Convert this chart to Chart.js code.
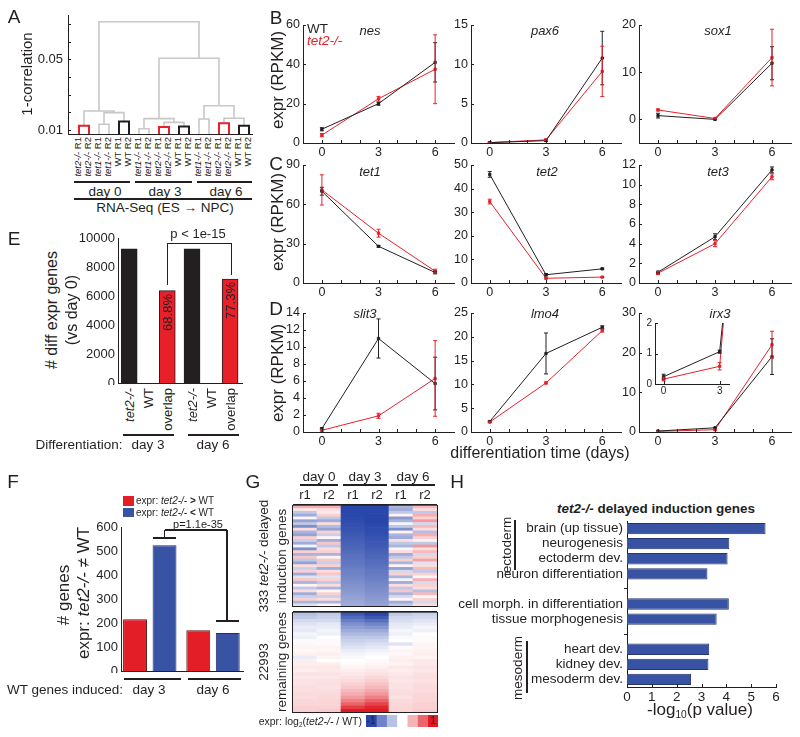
<!DOCTYPE html>
<html>
<head>
<meta charset="utf-8">
<script src="https://cdn.jsdelivr.net/npm/chart.js@4.4.1/dist/chart.umd.min.js"></script>
<style>
  body { margin: 0; background: #fff; }
  #fig { position: relative; width: 800px; height: 737px; overflow: hidden; background: #fff;
         font-family: "Liberation Sans", Arial, sans-serif; color: #231f20; }
  #fig canvas { position: absolute; }
  .t { position: absolute; white-space: nowrap; line-height: 1; }
  .t sub { font-size: 0.6em; vertical-align: -0.3em; line-height: 0; }
  .ln { position: absolute; background: #231f20; }
</style>
</head>
<body>
<div id="fig"></div>
<script>
// ===== Data =====
// A: dendrogram (1-correlation)
const leafLabels = ["tet2-/- R1","tet2-/- R2","tet1-/- R1","tet1-/- R2","WT R1","WT R2",
                    "tet1-/- R1","tet1-/- R2","tet2-/- R1","tet2-/- R2","WT R1","WT R2",
                    "tet1-/- R1","tet1-/- R2","tet2-/- R1","tet2-/- R2","WT R1","WT R2"];
const leafH = 0.0077;
const linkLeftX  = [1, 3, 5, 3.5, 1.5,   7, 9, 11, 9.5, 7.5,   13, 15, 17, 15.5, 13.5,   9, 3];
const linkRightX = [2, 4, 6, 5.5, 4.5,   8, 10, 12, 11.5, 10.5, 14, 16, 18, 17.5, 16.5,  15, 13];
const linkLeftH  = [leafH, leafH, leafH, 0.0132, 0.0124,  leafH, leafH, leafH, 0.0117, 0.0107,
                    leafH, leafH, leafH, 0.0138, 0.0162,  0.0164, 0.0207];
const linkRightH = [leafH, leafH, leafH, 0.0147, 0.0198,  leafH, leafH, leafH, 0.0119, 0.0143,
                    leafH, leafH, leafH, 0.0124, 0.0166,  0.0237, 0.0505];
const linkH      = [0.0124, 0.0132, 0.0147, 0.0198, 0.0207,  0.0107, 0.0117, 0.0119, 0.0143, 0.0164,
                    0.0162, 0.0138, 0.0124, 0.0166, 0.0237,  0.0505, 0.0712];
const linkColor  = ["r","g","k","g","g", "g","r","k","g","g", "g","r","k","g","g", "g","g"];
const corrTicks = [0.01, 0.05];
const corrMinor = [0.01, 0.02, 0.03, 0.04, 0.05, 0.06, 0.07];

// B-D: expression time courses (RPKM), WT vs tet2-/-
const days = [0, 3, 6];
const geneNames = ["nes","pax6","sox1","tet1","tet2","tet3","slit3","lmo4","irx3"];
const wtMean = [[7,20,41],[0.05,0.3,10.8],[0.8,0,11.9],[70,28,8],[46,3.5,6],[1.1,4.7,11.5],[0.4,11,5.7],[2.2,16.5,22],[0.24,1.06,19]];
const wtErr  = [[0.8,0.8,10],[0.05,0.1,3.4],[0.5,0.1,3.5],[3,0.6,1],[1.2,0.5,0.3],[0.1,0.3,0.3],[0.1,2.3,3.1],[0.15,4.3,0.3],[0.08,0.05,4.5]];
const koMean = [[4,22.5,37.5],[0.05,0.4,9.1],[2.0,0.2,13.1],[71,38,9],[34.5,2,2.5],[1.0,4.0,10.8],[0.2,1.9,6.3],[2.1,10.3,21.3],[0.16,0.58,22]];
const koErr  = [[0.8,1.2,17.5],[0.05,0.1,3.2],[0.2,0.1,6],[11.5,3,1.5],[1,0.3,0.2],[0.15,0.3,0.3],[0.1,0.3,4.45],[0.15,0.2,0.3],[0.06,0.12,3.4]];
const yMin = [0,0,-5,0,0,0,0,0,0];
const yMax = [60,15,20,90,50,12,14,25,30];
const yTicks = [[0,20,40,60],[0,5,10,15],[0,10,20],[0,30,60,90],[0,10,20,30,40,50],
                [0,2,4,6,8,10,12],[0,2,4,6,8,10,12,14],[0,5,10,15,20,25],[0,10,20,30]];
const dayTicks = [0, 3, 6];
const dayMinor = [0, 1, 2, 3, 4, 5, 6];
const insetYTicks = [0, 1, 2];
const insetXTicks = [0, 3];

// E: # diff expr genes vs day 0
const eLabels = ["tet2-/-","WT","overlap","tet2-/-","WT","overlap"];
const eSlots  = [1, 2, 3, 4.3, 5.3, 6.3];
const eValues = [9260, null, 6370, 9260, null, 7160];
const ePct    = [null, null, "68.8%", null, null, "77.3%"];
const eTicks  = [0, 2000, 4000, 6000, 8000, 10000];

// F: # genes tet2-/- != WT
const fGroups = ["day 3", "day 6"];
const fUp   = [216, 170];
const fDown = [524, 158];
const fTicks = [0, 100, 200, 300, 400, 500, 600];

// G: heatmap log2(tet2-/- / WT), columns d0r1 d0r2 d3r1 d3r2 d6r1 d6r2
const heatCols = ["r1","r2","r1","r2","r1","r2"];
const delayD0R1 = [0.35,0.1,-0.3,-0.45,0.05,-0.5,-0.3,-0.6,0.15,-0.4,-0.5,0.2,-0.25,-0.45,-0.05,-0.6,0.2,-0.4,0.25,-0.3,-0.5,0.15,-0.25,0.2,-0.45,-0.15,0.25,-0.4,0.05,-0.3,0.15,-0.45,-0.25,0.2,-0.4,-0.15];
const delayD0R2 = [0.35,0.15,0.1,0.2,-0.3,-0.45,0.15,-0.35,-0.5,0.2,-0.25,0.05,-0.45,0.25,-0.3,0.15,0.2,-0.4,0.05,0.25,-0.25,0.2,-0.45,0.15,0.25,-0.15,0.2,-0.3,0.15,-0.4,0.05,0.2,-0.25,0.15,-0.4,0.05];
const delayD3R1 = [-1,-1,-1,-0.99,-0.98,-0.97,-0.95,-0.94,-0.93,-0.91,-0.9,-0.88,-0.87,-0.85,-0.83,-0.82,-0.8,-0.78,-0.77,-0.75,-0.74,-0.72,-0.7,-0.68,-0.67,-0.65,-0.63,-0.61,-0.59,-0.57,-0.55,-0.53,-0.51,-0.49,-0.47,-0.45];
const delayD3R2 = [-1,-1,-1,-1,-1,-1,-0.99,-0.98,-0.97,-0.96,-0.95,-0.93,-0.92,-0.9,-0.89,-0.87,-0.85,-0.84,-0.82,-0.8,-0.79,-0.77,-0.75,-0.73,-0.72,-0.7,-0.68,-0.66,-0.64,-0.62,-0.6,-0.58,-0.56,-0.54,-0.52,-0.5];
const delayD6R1 = [-0.4,-0.45,-0.3,0.05,-0.55,-0.4,-0.05,-0.3,-0.6,0.05,-0.4,-0.45,0.15,-0.3,-0.4,-0.05,0.15,-0.45,-0.3,0.2,-0.4,0.05,-0.5,-0.2,0.2,-0.4,-0.05,-0.45,0.15,-0.3,0.25,-0.4,-0.2,0.05,-0.45,-0.3];
const delayD6R2 = [0.3,0.15,-0.3,0.35,0.2,0.45,-0.2,0.3,0.15,-0.35,0.35,0.2,0.05,-0.3,0.45,0.15,0.3,-0.2,0.2,0.4,-0.15,0.15,0.3,-0.3,0.2,0.05,0.35,-0.2,0.2,0.15,-0.35,0.3,0.05,0.2,-0.2,0.15];
const restD0R1 = [-0.35,-0.3,-0.2,-0.15,-0.1,-0.12,-0.05,-0.08,0.02,-0.03,0.05,0.03,0.06,-0.1,0.08,0.07,0.1,0.08,0.12,0.1,0.13,0.12,0.15,0.14,0.16,0.15,0.17,0.18,0.2,0.2];
const restD0R2 = [-0.3,-0.25,-0.2,-0.12,-0.1,-0.06,-0.08,0.0,0.03,0.02,0.05,0.04,0.07,0.05,0.0,0.08,0.1,0.09,0.12,0.11,0.13,0.14,0.13,0.15,0.16,0.17,0.18,0.18,0.2,0.22];
const restD3R1 = [-0.9,-0.8,-0.7,-0.6,-0.52,-0.45,-0.38,-0.3,-0.25,-0.2,-0.15,-0.1,-0.06,-0.03,0.0,0.02,0.05,0.08,0.1,0.13,0.16,0.2,0.24,0.3,0.36,0.44,0.55,0.68,0.85,1.0];
const restD3R2 = [-1,-0.9,-0.78,-0.66,-0.56,-0.46,-0.38,-0.3,-0.23,-0.17,-0.12,-0.07,-0.03,0.0,0.02,0.04,0.07,0.1,0.13,0.17,0.21,0.26,0.31,0.38,0.45,0.55,0.68,0.82,0.95,1.0];
const restD6R1 = [-0.3,-0.22,-0.18,-0.12,-0.1,-0.05,-0.08,-0.02,0.0,-0.15,0.02,0.05,0.03,0.06,0.08,0.05,0.1,0.08,0.1,0.12,0.11,0.13,0.12,0.14,0.15,0.13,0.16,0.17,0.18,0.18];
const restD6R2 = [-0.25,-0.2,-0.15,-0.1,-0.05,-0.08,0.0,0.02,-0.02,0.05,0.04,0.06,0.08,0.05,0.1,0.09,0.12,0.1,0.13,0.14,0.12,0.15,0.16,0.15,0.17,0.18,0.18,0.2,0.2,0.22];
const scaleSteps = [-1, -0.67, -0.33, 0, 0.33, 0.67, 1];

// H: enrichment of delayed induction genes
const hTerms = ["brain (up tissue)","neurogenesis","ectoderm dev.","neuron differentiation","",
                "cell morph. in differentiation","tissue morphogenesis","",
                "heart dev.","kidney dev.","mesoderm dev."];
const hValues = [5.58, 4.12, 4.05, 3.24, null, 4.10, 3.61, null, 3.31, 3.28, 2.58];
const hTicks = [0, 1, 2, 3, 4, 5, 6];

// ===== Helpers =====
const INK = "#231f20", RED = "#e8202a", BLUE = "#3953a4", GRAY = "#c8c8c8";
const dendroColor = { r: RED, k: INK, g: GRAY };
Chart.defaults.font.family = '"Liberation Sans", Arial, sans-serif';
Chart.defaults.color = INK;
const fig = document.getElementById("fig");

function place(l, t, w, h, pl, pt, pr, pb) {
  const c = document.createElement("canvas");
  c.width = w + pl + pr; c.height = h + pt + pb;
  c.style.left = (l - pl) + "px"; c.style.top = (t - pt) + "px";
  fig.appendChild(c);
  return c;
}
function fitTo(size) {
  return s => {
    if (s.isHorizontal()) { s.height = size; s.paddingLeft = 0; s.paddingRight = 0; }
    else { s.width = size; s.paddingTop = 0; s.paddingBottom = 0; }
  };
}
function baseOpts(scales, pt, pr, extra, marks) {
  return Object.assign({
    responsive: false, animation: false, events: [],
    layout: { padding: { left: 0, top: pt, right: pr, bottom: 0 } },
    plugins: { legend: { display: false }, tooltip: { enabled: false }, inTicks: marks || {} },
    scales
  }, extra || {});
}
function linAxis(min, max, ticks, size, font, pad) {
  return {
    type: "linear", min, max,
    afterBuildTicks: s => { s.ticks = ticks.map(v => ({ value: v })); },
    afterFit: fitTo(size),
    grid: { display: false, drawTicks: false },
    border: { display: true, color: INK, width: 1 },
    ticks: { display: font > 0, font: { size: font || 10 }, color: INK, padding: pad ?? 3,
             maxRotation: 0, autoSkip: false, callback: v => String(v) }
  };
}
function txt(html, x, y, o) {
  o = o || {};
  const d = document.createElement("div");
  d.className = "t";
  d.innerHTML = html;
  d.style.left = x + "px"; d.style.top = y + "px";
  d.style.fontSize = (o.size || 13) + "px";
  if (o.color) d.style.color = o.color;
  if (o.bold) d.style.fontWeight = "bold";
  if (o.italic) d.style.fontStyle = "italic";
  const a = o.align || "c";
  const tx = a === "l" ? "0" : a === "r" ? "-100%" : "-50%";
  if (!o.rot) {
    d.style.transform = "translate(" + tx + ",-50%)";
  } else {
    d.style.transformOrigin = (a === "l" ? "left" : a === "r" ? "right" : "center") + " center";
    d.style.transform = "translate(" + tx + ",-50%) rotate(" + o.rot + "deg)";
  }
  fig.appendChild(d);
}
function box(x, y, w, h, color) {
  const d = document.createElement("div");
  d.className = "ln";
  d.style.left = x + "px"; d.style.top = y + "px";
  d.style.width = w + "px"; d.style.height = h + "px";
  if (color) d.style.background = color;
  fig.appendChild(d);
}
function hline(x1, x2, y, w) { box(x1, y - (w || 1) / 2, x2 - x1, w || 1); }
function vline(x, y1, y2, w) { box(x - (w || 1) / 2, y1, w || 1, y2 - y1); }
function ital(s) { return s.replace(/(tet\d-\/-)/, "<i>$1</i>"); }
function off(chart) { return { x: parseFloat(chart.canvas.style.left), y: parseFloat(chart.canvas.style.top) }; }
function heatColor(v) {
  const t = Math.max(-1, Math.min(1, v));
  const end = t < 0 ? [40, 70, 170] : [225, 25, 35];
  const a = Math.abs(t);
  const c = end.map(e => Math.round(255 + (e - 255) * a));
  return "rgb(" + c.join(",") + ")";
}

// error bars drawn through the chart's own scales
const errorBars = {
  id: "errorBars",
  afterDatasetsDraw(chart) {
    const { ctx, chartArea: a, scales: { x, y } } = chart;
    ctx.save();
    ctx.beginPath(); ctx.rect(a.left, a.top, a.right - a.left, a.bottom - a.top); ctx.clip();
    chart.data.datasets.forEach(ds => {
      if (!ds.errors) return;
      ctx.strokeStyle = ds.borderColor; ctx.lineWidth = 1;
      ctx.beginPath();
      ds.data.forEach((p, k) => {
        const e = ds.errors[k];
        if (!e) return;
        const px = x.getPixelForValue(p.x);
        const y1 = y.getPixelForValue(p.y - e), y2 = y.getPixelForValue(p.y + e);
        ctx.moveTo(px, y1); ctx.lineTo(px, y2);
        ctx.moveTo(px - 2, y1); ctx.lineTo(px + 2, y1);
        ctx.moveTo(px - 2, y2); ctx.lineTo(px + 2, y2);
      });
      ctx.stroke();
    });
    ctx.restore();
  }
};
// small inward tick marks (matlab style)
const inTicks = {
  id: "inTicks",
  afterDraw(chart, args, opts) {
    const { ctx, chartArea: a, scales: { x, y } } = chart;
    ctx.save(); ctx.strokeStyle = INK; ctx.lineWidth = 1; ctx.beginPath();
    (opts.x || []).forEach(v => { const p = Math.round(x.getPixelForValue(v)) + 0.5; ctx.moveTo(p, a.bottom); ctx.lineTo(p, a.bottom - 3); });
    (opts.y || []).forEach(v => { const p = Math.round(y.getPixelForValue(v)) + 0.5; ctx.moveTo(a.left, p); ctx.lineTo(a.left + 3, p); });
    ctx.stroke(); ctx.restore();
  }
};

// ===== Panel A: dendrogram =====
const chartA = new Chart(place(68, 15, 184, 119, 40, 8, 4, 2), {
  type: "line",
  data: { datasets: linkH.map((h, k) => ({
    data: [{ x: linkLeftX[k], y: linkLeftH[k] }, { x: linkLeftX[k], y: h },
           { x: linkRightX[k], y: h }, { x: linkRightX[k], y: linkRightH[k] }],
    borderColor: dendroColor[linkColor[k]], borderWidth: linkColor[k] === "g" ? 1.6 : 2,
    pointRadius: 0, tension: 0, clip: false, order: linkColor[k] === "g" ? 1 : 0
  })) },
  options: baseOpts({
    x: linAxis(-0.1, 18.3, [0], 2, 0),
    y: linAxis(0.0077, 0.075, corrTicks, 40, 13, 5)
  }, 8, 4, null, { y: corrMinor }),
  plugins: [inTicks]
});
(function () {
  const o = off(chartA), sx = chartA.scales.x, sy = chartA.scales.y;
  const base = o.y + sy.getPixelForValue(leafH) + 3;
  leafLabels.forEach((l, k) => txt(ital(l), o.x + sx.getPixelForValue(k + 1) - 1, base, { size: 9.5, rot: -90, align: "r" }));
})();
txt("1-correlation", 26, 74, { size: 15, rot: -90 });
hline(74, 130, 182, 1.3); hline(135, 192, 182, 1.3); hline(197, 252, 182, 1.3);
hline(74, 252, 199, 1.3);
txt("day 0", 105, 192, { size: 13.5 });
txt("day 3", 165, 192, { size: 13.5 });
txt("day 6", 226, 192, { size: 13.5 });
txt("RNA-Seq (ES &#8594; NPC)", 165, 208, { size: 13.5 });

// ===== Panels B-D: time courses =====
const colL = [303, 471, 639], colW = [152, 151, 153];
const rowT = [25, 165, 313], rowH = [118, 118, 119];
function series(vals, errs, color) {
  return {
    data: days.map((d, k) => ({ x: d, y: vals[k] })), errors: errs,
    borderColor: color, backgroundColor: color, borderWidth: 1,
    pointRadius: 1.6, pointStyle: "rect", tension: 0
  };
}
geneNames.forEach((g, i) => {
  const r = Math.floor(i / 3), c = i % 3;
  new Chart(place(colL[c], rowT[r], colW[c], rowH[r], 26, 8, 4, 18), {
    type: "line",
    data: { datasets: [series(wtMean[i], wtErr[i], INK), series(koMean[i], koErr[i], RED)] },
    options: baseOpts({
      x: linAxis(-1, 7, dayTicks, 18, 12.5, 2),
      y: linAxis(yMin[i], yMax[i], yTicks[i], 26, 12.5, 3)
    }, 8, 4, null, { x: dayMinor, y: yTicks[i] }),
    plugins: [errorBars, inTicks]
  });
});
// irx3 inset (days 0-3)
new Chart(place(655, 322, 77, 62, 14, 4, 2, 14), {
  type: "line",
  data: { datasets: [series(wtMean[8], wtErr[8], INK), series(koMean[8], koErr[8], RED)] },
  options: baseOpts({
    x: linAxis(-0.46, 3.5, insetXTicks, 14, 10, 1),
    y: linAxis(0, 2, insetYTicks, 14, 10, 3)
  }, 4, 2, null, { x: insetXTicks, y: insetYTicks }),
  plugins: [errorBars, inTicks]
});
const geneLabelX = [370, 545, 718, 370, 547, 718, 365, 545, 720];
const geneLabelY = [30, 30, 30, 171, 171, 171, 313, 313, 313];
geneNames.forEach((g, i) => txt(g, geneLabelX[i], geneLabelY[i], { size: 13, italic: true }));
txt("WT", 307, 29, { size: 13.5, align: "l" });
txt("<i>tet2-/-</i>", 307, 41, { size: 13.5, align: "l", color: RED });
txt("expr (RPKM)", 277, 80, { size: 17, rot: -90 });
txt("expr (RPKM)", 277, 222, { size: 17, rot: -90 });
txt("expr (RPKM)", 277, 373, { size: 17, rot: -90 });
txt("differentiation time (days)", 540, 453, { size: 16 });

// ===== Panel E =====
const chartE = new Chart(place(118, 238, 124, 145, 40, 8, 4, 2), {
  type: "bar",
  data: { datasets: [{
    data: eSlots.map((s, k) => ({ x: s, y: eValues[k] })),
    backgroundColor: eLabels.map(l => l === "overlap" ? RED : INK),
    borderColor: INK, borderWidth: 1, barThickness: 16
  }] },
  options: baseOpts({
    x: Object.assign(linAxis(0.412, 6.925, [1], 2, 0), { offset: false }),
    y: linAxis(0, 10000, eTicks, 40, 13, 3)
  }, 8, 4)
});
(function () {
  const o = off(chartE), sx = chartE.scales.x, sy = chartE.scales.y;
  eSlots.forEach((s, k) => {
    const px = o.x + sx.getPixelForValue(s);
    txt(ital(eLabels[k]), px, o.y + sy.getPixelForValue(0) + 5, { size: 13, rot: -90, align: "r" });
    if (ePct[k]) txt(ePct[k], px, o.y + sy.getPixelForValue(eValues[k]) + 3, { size: 13, rot: -90, align: "r" });
  });
})();
hline(167, 231, 243, 1); vline(167, 243, 285, 1); vline(231, 243, 275, 1);
txt("p &lt; 1e-15", 198, 233, { size: 13 });
hline(123, 174, 435, 1.3); hline(188, 239, 435, 1.3);
txt("Differentiation:", 79, 445, { size: 13.5 });
txt("day 3", 148, 445, { size: 13.5 });
txt("day 6", 213, 445, { size: 13.5 });
txt("# diff expr genes", 52, 310, { size: 16, rot: -90 });
txt("(vs day 0)", 72, 310, { size: 16, rot: -90 });

// ===== Panel F =====
new Chart(place(121, 527, 122, 144, 36, 8, 4, 2), {
  type: "bar",
  data: { datasets: [
    { data: fUp.map((v, k) => ({ x: k + 1, y: v })), backgroundColor: "#e41e26", borderColor: "#5a1a1a", borderWidth: 1 },
    { data: fDown.map((v, k) => ({ x: k + 1, y: v })), backgroundColor: BLUE, borderColor: "#1f2f6a", borderWidth: 1 }
  ] },
  options: baseOpts({
    x: Object.assign(linAxis(0.545, 2.474, [1], 2, 0), { offset: false }),
    y: linAxis(0, 600, fTicks, 36, 13, 3)
  }, 8, 4, { datasets: { bar: { categoryPercentage: 0.933, barPercentage: 0.81 } } })
});
box(123, 496, 11, 10, "#e41e26");
box(123, 508, 11, 9, BLUE);
txt("expr: <i>tet2-/-</i> <b>&gt;</b> WT", 136, 501, { size: 10, align: "l" });
txt("expr: <i>tet2-/-</i> <b>&lt;</b> WT", 136, 513, { size: 10, align: "l" });
hline(153, 176, 538, 1.3); vline(164.5, 530, 538, 1.3);
hline(164.5, 227, 530, 1.3); vline(227, 530, 621, 1.3); hline(216, 239, 621, 1.3);
txt("p=1.1e-35", 198, 524, { size: 11 });
txt("# genes", 63, 595, { size: 17, rot: -90 });
txt("expr: <i>tet2-/-</i> &#8800; WT", 83, 593, { size: 17, rot: -90 });
hline(124, 181, 679, 1.3); hline(188, 241, 679, 1.3);
txt("WT genes induced:", 65, 690, { size: 13.5 });
txt("day 3", 149, 690, { size: 13.5 });
txt("day 6", 213, 690, { size: 13.5 });

// ===== Panel G: heatmaps =====
function heatPanel(cols, top, h) {
  const n = cols[0].length;
  return new Chart(place(293, top, 144, h, 2, 2, 2, 2), {
    type: "bar",
    data: {
      labels: heatCols,
      datasets: cols[0].map((_, r) => ({
        data: cols.map(() => 1),
        backgroundColor: cols.map(c => heatColor(c[r])),
        borderWidth: 0, categoryPercentage: 1, barPercentage: 1
      }))
    },
    options: baseOpts({
      x: { stacked: true, afterFit: fitTo(2),
           grid: { display: true, color: INK, lineWidth: 2, drawTicks: false, offset: true },
           border: { display: true, color: INK, width: 2 }, ticks: { display: false } },
      y: { stacked: true, min: 0, max: n, reverse: true, afterFit: fitTo(2),
           afterBuildTicks: s => { s.ticks = [{ value: 0 }, { value: n }]; },
           grid: { display: true, color: INK, lineWidth: 2, drawTicks: false },
           border: { display: false }, ticks: { display: false } }
    }, 2, 2)
  });
}
const chartG = heatPanel([delayD0R1, delayD0R2, delayD3R1, delayD3R2, delayD6R1, delayD6R2], 505, 101);
heatPanel([restD0R1, restD0R2, restD3R1, restD3R2, restD6R1, restD6R2], 612, 100);
(function () {
  const o = off(chartG), sx = chartG.scales.x;
  heatCols.forEach((c, k) => txt(c, o.x + sx.getPixelForValue(k), 494, { size: 13 }));
})();
txt("day 0", 319, 477, { size: 13.5 }); hline(300, 338, 485, 1.3);
txt("day 3", 365, 477, { size: 13.5 }); hline(343, 387, 485, 1.3);
txt("day 6", 413, 477, { size: 13.5 }); hline(391, 435, 485, 1.3);
txt("333 <i>tet2-/-</i> delayed", 264, 556, { size: 13.5, rot: -90 });
txt("induction genes", 282, 556, { size: 13.5, rot: -90 });
txt("22993", 264, 662, { size: 13.5, rot: -90 });
txt("remaining genes", 282, 662, { size: 13.5, rot: -90 });
// colour scale
new Chart(place(366, 715, 72, 12, 0, 0, 0, 0), {
  type: "bar",
  data: { labels: [""], datasets: scaleSteps.map(v => ({ data: [1], backgroundColor: heatColor(v), borderWidth: 0, categoryPercentage: 1, barPercentage: 1 })) },
  options: baseOpts({
    x: { stacked: true, min: 0, max: scaleSteps.length, afterFit: fitTo(0), grid: { display: false, drawTicks: false }, border: { display: false }, ticks: { display: false } },
    y: { stacked: true, afterFit: fitTo(0), grid: { display: false, drawTicks: false }, border: { display: false }, ticks: { display: false } }
  }, 0, 0, { indexAxis: "y" })
});
txt("-1", 371, 721, { size: 10 });
txt("1", 433, 721, { size: 10 });
txt("expr: log<sub>2</sub>(<i>tet2-/-</i> / WT)", 362, 721, { size: 10.5, align: "r" });

// ===== Panel H =====
new Chart(place(627, 521, 149, 166, 180, 4, 10, 20), {
  type: "bar",
  data: { labels: hTerms, datasets: [{
    data: hValues, backgroundColor: BLUE, borderColor: "#24356f", borderWidth: 1,
    categoryPercentage: 1, barPercentage: 0.75
  }] },
  options: baseOpts({
    x: linAxis(0, 6, hTicks, 20, 13.5, 2),
    y: { type: "category", afterFit: fitTo(180),
         grid: { display: true, drawOnChartArea: false, drawTicks: true, tickLength: 3, offset: false,
                 color: c => hTerms[c.index] === "" ? INK : "rgba(0,0,0,0)" },
         border: { display: true, color: INK, width: 1 },
         ticks: { font: { size: 13.5 }, color: INK, padding: 1, autoSkip: false } }
  }, 4, 10, { indexAxis: "y" }, { x: hTicks }),
  plugins: [inTicks]
});
txt("<i>tet2-/-</i> delayed induction genes", 656, 509, { size: 13.5, bold: true });
txt("ectoderm", 507, 545, { size: 13.5, rot: -90 }); vline(515, 520, 570, 1.3);
txt("mesoderm", 518, 668, { size: 13.5, rot: -90 }); vline(527, 641, 693, 1.3);
txt("-log<sub>10</sub>(p value)", 700, 709, { size: 17 });

// panel letters
[["A", 14, 16], ["B", 276, 17], ["C", 276, 163], ["D", 276, 308], ["E", 14, 238],
 ["F", 13, 481], ["G", 253, 481], ["H", 457, 481]].forEach(p => txt(p[0], p[1], p[2], { size: 19 }));
</script>
</body>
</html>
